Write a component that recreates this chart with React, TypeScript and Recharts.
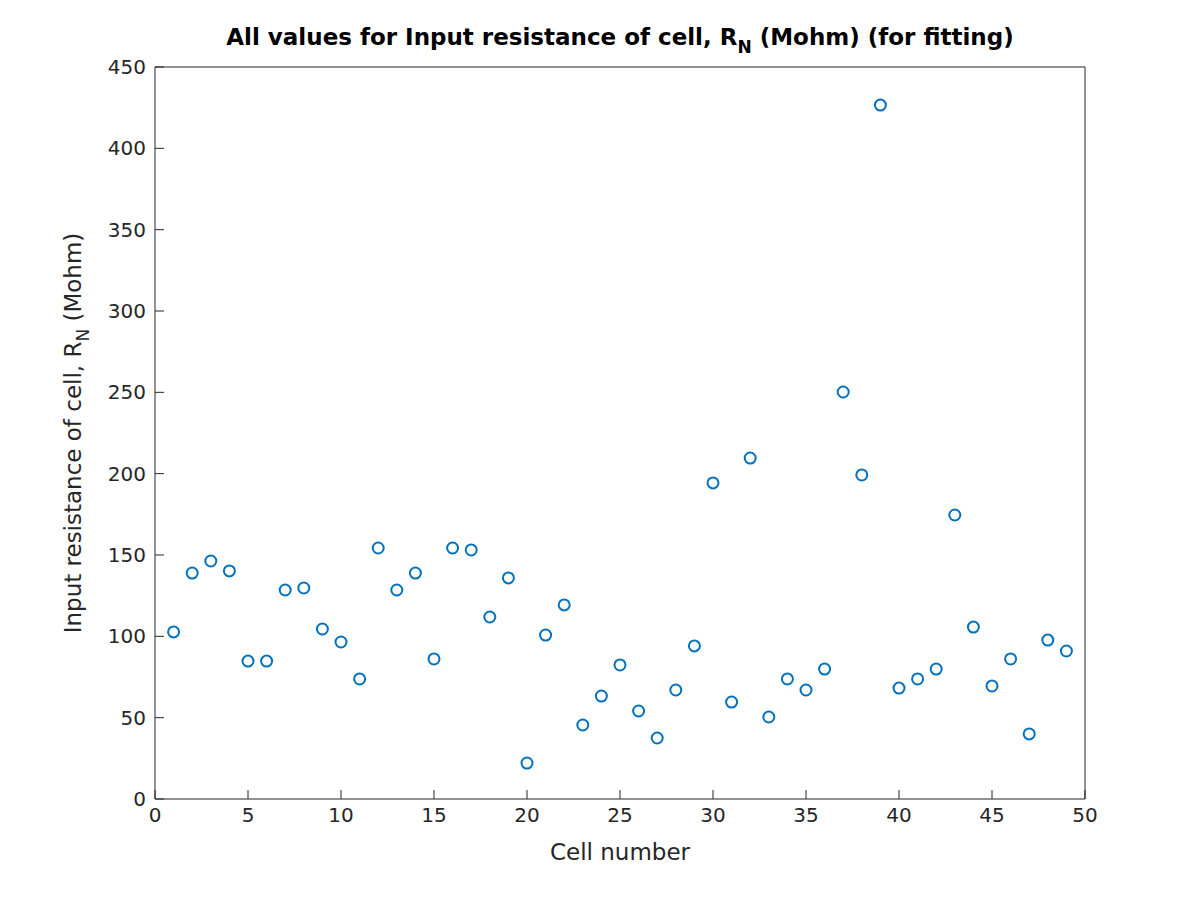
import React from "react";
import { ScatterChart, Scatter, XAxis, YAxis } from "recharts";

const cellNumbers = [
  1, 2, 3, 4, 5, 6, 7, 8, 9, 10, 11, 12, 13, 14, 15, 16, 17, 18, 19, 20, 21, 22, 23, 24, 25,
  26, 27, 28, 29, 30, 31, 32, 33, 34, 35, 36, 37, 38, 39, 40, 41, 42, 43, 44, 45, 46, 47, 48, 49,
];
const inputResistance = [
  102.7, 138.9, 146.3, 140.2, 84.8, 84.8, 128.5, 129.7, 104.5, 96.5, 73.8, 154.3, 128.5, 138.9,
  86.1, 154.3, 153.1, 111.9, 135.9, 22.1, 100.8, 119.3, 45.5, 63.3, 82.4, 54.1, 37.5, 67, 94.1,
  194.3, 59.6, 209.6, 50.4, 73.8, 67, 79.9, 250.2, 199.2, 426.6, 68.2, 73.8, 79.9, 174.6, 105.7,
  69.5, 86.1, 40, 97.7, 91,
];
const xTicks = [0, 5, 10, 15, 20, 25, 30, 35, 40, 45, 50];
const yTicks = [0, 50, 100, 150, 200, 250, 300, 350, 400, 450];

const points = cellNumbers.map((c, i) => ({ cell: c, rn: inputResistance[i] }));

const INK = "#262626";
const FONT = "'DejaVu Sans', sans-serif";
const TICK_LEN = 9;

// MATLAB-style ticks: short line pointing into the box, label outside
function BottomTick({ x, y, payload }: any) {
  return (
    <g>
      <line x1={x} y1={y} x2={x} y2={y - TICK_LEN} stroke={INK} />
      <text x={x} y={y + 23} textAnchor="middle" fill={INK} fontSize={20} fontFamily={FONT}>
        {payload.value}
      </text>
    </g>
  );
}

function TopTick({ x, y }: any) {
  return <line x1={x} y1={y} x2={x} y2={y + TICK_LEN} stroke={INK} />;
}

function LeftTick({ x, y, payload }: any) {
  return (
    <g>
      <line x1={x} y1={y} x2={x + TICK_LEN} y2={y} stroke={INK} />
      <text x={x - 9} y={y + 7} textAnchor="end" fill={INK} fontSize={20} fontFamily={FONT}>
        {payload.value}
      </text>
    </g>
  );
}

function RightTick({ x, y }: any) {
  return <line x1={x} y1={y} x2={x - TICK_LEN} y2={y} stroke={INK} />;
}

function Marker({ cx, cy }: any) {
  return <circle cx={cx} cy={cy} r={5.5} fill="none" stroke="#0072BD" strokeWidth={2} />;
}

export default function App() {
  return (
    <div style={{ position: "absolute", left: 0, top: 0, width: 1200, height: 900, background: "#fff" }}>
      <ScatterChart
        width={1200}
        height={900}
        margin={{ top: 57, right: 105, bottom: 61, left: 95 }}
      >
        <XAxis
          xAxisId="bottom"
          dataKey="cell"
          type="number"
          domain={[0, 50]}
          ticks={xTicks}
          interval={0}
          height={40}
          tickSize={0}
          tickMargin={0}
          tickLine={false}
          tick={<BottomTick />}
          axisLine={{ stroke: INK }}
        />
        <XAxis
          xAxisId="top"
          orientation="top"
          dataKey="cell"
          type="number"
          domain={[0, 50]}
          ticks={xTicks}
          interval={0}
          height={10}
          tickSize={0}
          tickMargin={0}
          tickLine={false}
          tick={<TopTick />}
          axisLine={{ stroke: INK }}
        />
        <YAxis
          yAxisId="left"
          dataKey="rn"
          type="number"
          domain={[0, 450]}
          ticks={yTicks}
          interval={0}
          width={60}
          tickSize={0}
          tickMargin={0}
          tickLine={false}
          tick={<LeftTick />}
          axisLine={{ stroke: INK }}
        />
        <YAxis
          yAxisId="right"
          orientation="right"
          dataKey="rn"
          type="number"
          domain={[0, 450]}
          ticks={yTicks}
          interval={0}
          width={10}
          tickSize={0}
          tickMargin={0}
          tickLine={false}
          tick={<RightTick />}
          axisLine={{ stroke: INK }}
        />
        <Scatter
          data={points}
          xAxisId="bottom"
          yAxisId="left"
          shape={<Marker />}
          isAnimationActive={false}
        />
      </ScatterChart>

      <div
        style={{
          position: "absolute",
          left: 155,
          width: 930,
          top: 24,
          textAlign: "center",
          fontFamily: FONT,
          fontWeight: "bold",
          fontSize: 23,
          color: "#000",
          lineHeight: "26px",
          whiteSpace: "nowrap",
        }}
      >
        All values for Input resistance of cell, R
        <sub style={{ fontSize: 17, verticalAlign: "-8px" }}>N</sub> (Mohm) (for fitting)
      </div>

      <div
        style={{
          position: "absolute",
          left: 155,
          width: 930,
          top: 838,
          textAlign: "center",
          fontFamily: FONT,
          fontSize: 23,
          color: INK,
          lineHeight: "28px",
        }}
      >
        Cell number
      </div>

      <div
        style={{
          position: "absolute",
          left: 78,
          top: 433,
          transform: "translate(-50%, -50%) rotate(-90deg)",
          fontFamily: FONT,
          fontSize: 23,
          color: INK,
          lineHeight: "28px",
          whiteSpace: "nowrap",
        }}
      >
        Input resistance of cell, R
        <sub style={{ fontSize: 17, verticalAlign: "-8px" }}>N</sub> (Mohm)
      </div>
    </div>
  );
}
